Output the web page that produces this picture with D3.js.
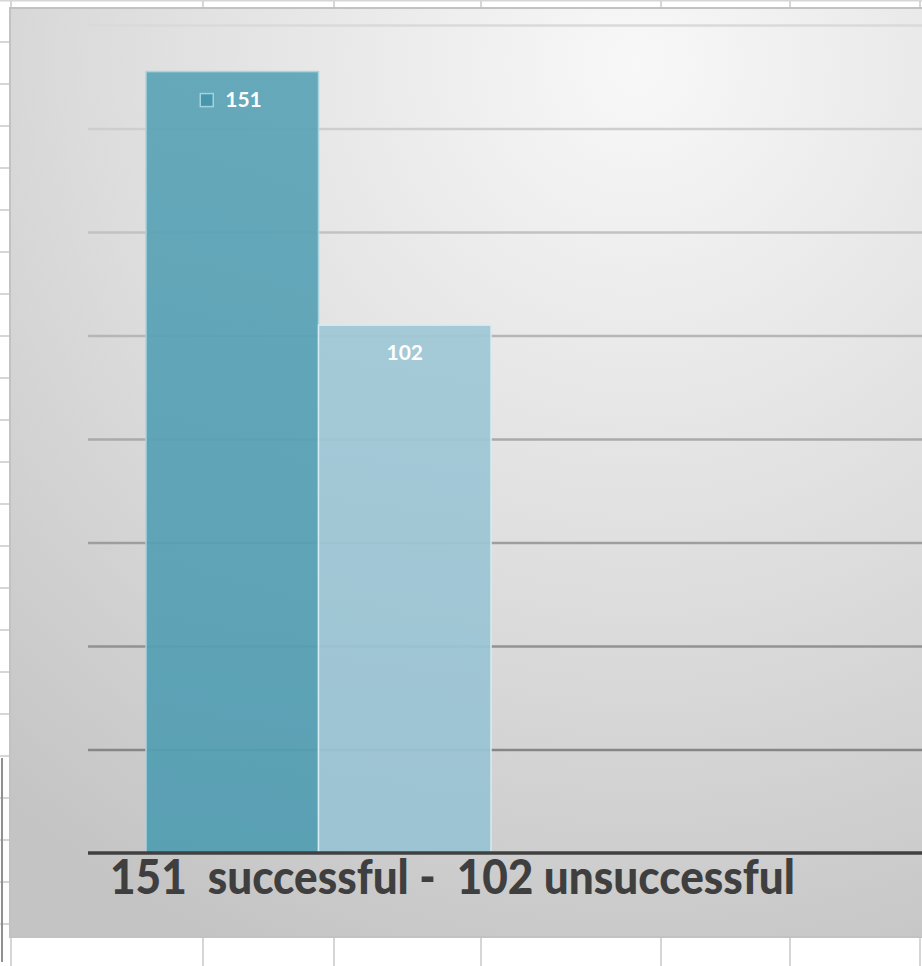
<!DOCTYPE html>
<html><head><meta charset="utf-8">
<script src="https://cdn.jsdelivr.net/npm/d3@7"></script>
<style>html,body{margin:0;padding:0;background:#fff;overflow:hidden}</style>
</head><body>
<svg id="c" width="922" height="966"></svg>
<script>
// ---- data ----
const categories = ["151  successful -  102 unsuccessful"];
const series = ["successful", "unsuccessful"];
const values = [151, 102];
const yTicks = [0, 20, 40, 60, 80, 100, 120, 140, 160];

const svg = d3.select("#c");
const W = 922, H = 966;
const defs = svg.append("defs");

// spreadsheet grid behind the chart
const sheet = svg.append("g");
sheet.append("rect").attr("width", W).attr("height", H).attr("fill", "#ffffff");
const colX = [11, 203, 334, 481, 661, 790, 920];
colX.forEach(x => sheet.append("line").attr("x1", x).attr("x2", x).attr("y1", 0).attr("y2", H)
  .attr("stroke", "#d6d6d6").attr("stroke-width", 2));
sheet.append("line").attr("x1", 0).attr("x2", W).attr("y1", 0.5).attr("y2", 0.5).attr("stroke", "#d6d6d6").attr("stroke-width", 2);
d3.range(42, H, 42).forEach(y => sheet.append("line").attr("x1", 0).attr("x2", 12).attr("y1", y).attr("y2", y)
  .attr("stroke", "#d6d6d6").attr("stroke-width", 2));
sheet.append("line").attr("x1", 2).attr("x2", 2).attr("y1", 758).attr("y2", 962).attr("stroke", "#909090").attr("stroke-width", 2);

// chart area
const bg = defs.append("radialGradient").attr("id", "bg").attr("cx", 0.68).attr("cy", 0.06).attr("r", 1.05)
  .attr("fx", 0.68).attr("fy", 0.06);
bg.append("stop").attr("offset", 0).attr("stop-color", "#f8f8f8");
bg.append("stop").attr("offset", 0.55).attr("stop-color", "#dddddd");
bg.append("stop").attr("offset", 1).attr("stop-color", "#c4c4c4");
svg.append("rect").attr("x", 10).attr("y", 8).attr("width", W).attr("height", 929)
  .attr("fill", "url(#bg)").attr("stroke", "#c2c2c2").attr("stroke-width", 2);

// scales
const plotLeft = 88, plotRight = W, plotTop = 25, plotBottom = 853;
const y = d3.scaleLinear().domain([0, 160]).range([plotBottom, plotTop]);
const x = d3.scaleBand().domain(series).range([146, 491]).padding(0);

// gridlines, lighter toward the top
const gridColor = d3.scaleLinear().domain([plotTop, plotBottom]).range(["#dadada", "#7a7a7a"]);
const grid = d3.axisLeft(y).tickValues(yTicks.filter(v => v > 0)).tickSize(-(plotRight - plotLeft)).tickFormat("");
const gGrid = svg.append("g").attr("transform", `translate(${plotLeft},0)`).call(grid);
gGrid.select(".domain").remove();
gGrid.selectAll(".tick line").attr("stroke", d => gridColor(y(d))).attr("stroke-width", 2.4);

// bars
const b1 = defs.append("linearGradient").attr("id", "b1").attr("x1", 0).attr("y1", 0).attr("x2", 0).attr("y2", 1);
b1.append("stop").attr("offset", 0).attr("stop-color", "#5ba4b7");
b1.append("stop").attr("offset", 1).attr("stop-color", "#529db2");
const b2 = defs.append("linearGradient").attr("id", "b2").attr("x1", 0).attr("y1", 0).attr("x2", 0).attr("y2", 1);
b2.append("stop").attr("offset", 0).attr("stop-color", "#9fc7d6");
b2.append("stop").attr("offset", 1).attr("stop-color", "#99c3d3");
const fills = ["url(#b1)", "url(#b2)"];

const bars = svg.append("g").selectAll("g").data(values).join("g");
bars.append("rect")
  .attr("x", (d, i) => x(series[i]))
  .attr("y", d => y(d))
  .attr("width", x.bandwidth())
  .attr("height", d => y(0) - y(d))
  .attr("fill", (d, i) => fills[i])
  .attr("fill-opacity", 0.93)
  .attr("stroke", (d, i) => i === 0 ? "#a9d3de" : "#d6ebf2")
  .attr("stroke-width", 1.5);

// value labels
const labelFont = "Lato, 'Open Sans', sans-serif";
bars.each(function (d, i) {
  const g = d3.select(this);
  const cx = x(series[i]) + x.bandwidth() / 2;
  const ty = y(d) + 35;
  if (i === 0) {
    g.append("rect").attr("x", cx - 32).attr("y", ty - 13).attr("width", 13).attr("height", 13)
      .attr("fill", "#4796ab").attr("stroke", "#a6d2dd").attr("stroke-width", 1.5);
    g.append("text").attr("x", cx - 7).attr("y", ty).attr("fill", "#ffffff")
      .attr("font-family", labelFont).attr("font-weight", 700).attr("font-size", 21)
      .text(d);
  } else {
    g.append("text").attr("x", cx).attr("y", ty).attr("text-anchor", "middle").attr("fill", "#ffffff")
      .attr("font-family", labelFont).attr("font-weight", 700).attr("font-size", 21)
      .text(d);
  }
});

// category axis
svg.append("line").attr("x1", plotLeft).attr("x2", plotRight).attr("y1", y(0)).attr("y2", y(0))
  .attr("stroke", "#404040").attr("stroke-width", 3.5);
svg.append("text").attr("x", 110).attr("y", 894)
  .attr("fill", "#3f3f3f").attr("font-family", labelFont).attr("font-weight", 900).attr("font-size", 48)
  .style("white-space", "pre")
  .attr("textLength", 685).attr("lengthAdjust", "spacingAndGlyphs")
  .text(categories[0]);
</script>
</body></html>
